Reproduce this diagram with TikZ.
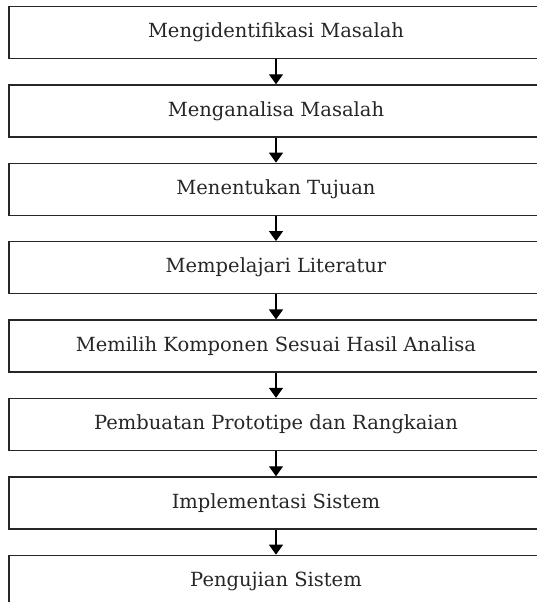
\documentclass[tikz,border=0pt]{standalone}
\usepackage{fontspec}
\setmainfont{DejaVu Serif}
\usetikzlibrary{arrows.meta}
\begin{document}
\begin{tikzpicture}[x=1pt,y=-1pt,
  stepbox/.style={draw=black!85,line width=1.3pt,rectangle,minimum width=534pt,minimum height=52pt,inner sep=0pt,font=\fontsize{19.5}{24}\selectfont,text=black!85},
  flow/.style={line width=1.3pt,draw=black,-{Triangle[length=10pt,width=14pt]}}]
\useasboundingbox (0,0) rectangle (537,602);
\clip (0,0) rectangle (537,602);
\node[stepbox] (b0) at (276,32.5) {Mengidentifikasi Masalah};
\node[stepbox] (b1) at (276,110.9) {Menganalisa Masalah};
\node[stepbox] (b2) at (276,189.3) {Menentukan Tujuan};
\node[stepbox] (b3) at (276,267.7) {Mempelajari Literatur};
\node[stepbox] (b4) at (276,346.1) {Memilih Komponen Sesuai Hasil Analisa};
\node[stepbox] (b5) at (276,424.5) {Pembuatan Prototipe dan Rangkaian};
\node[stepbox] (b6) at (276,502.9) {Implementasi Sistem};
\node[stepbox] (b7) at (276,581.3) {Pengujian Sistem};
\foreach \a/\b in {b0/b1,b1/b2,b2/b3,b3/b4,b4/b5,b5/b6,b6/b7}
  \draw[flow] (\a.south) -- (\b.north);
\end{tikzpicture}
\end{document}
